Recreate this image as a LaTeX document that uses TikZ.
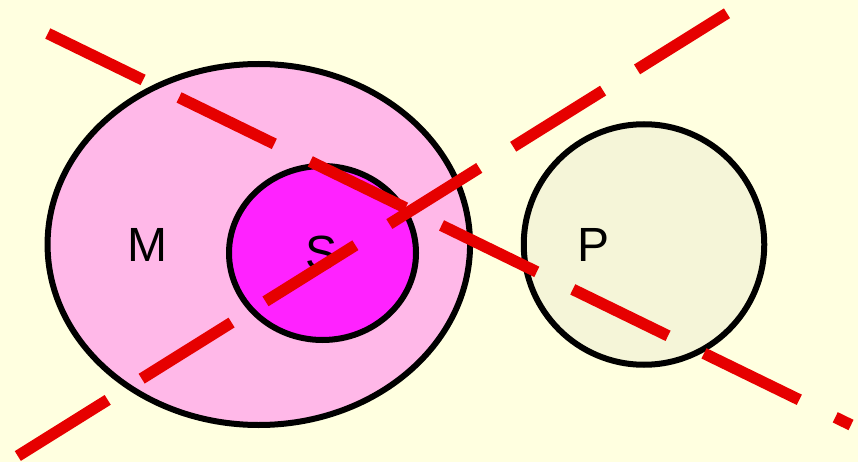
\documentclass[tikz,border=0pt]{standalone}
\usepackage{fontspec}
\setmainfont{Liberation Sans}
\usetikzlibrary{shapes.geometric}
\definecolor{bgyellow}{RGB}{255,255,224}
\definecolor{setpink}{RGB}{255,184,232}
\definecolor{setmagenta}{RGB}{255,34,255}
\definecolor{setbeige}{RGB}{245,245,216}
\definecolor{cutred}{RGB}{230,0,0}

\begin{document}
\begin{tikzpicture}[x=1pt, y=-1pt,
    setshape/.style={ellipse, draw, line width=6pt, inner sep=0pt},
    setlabel/.style={inner sep=0pt, font=\fontsize{48}{52}\selectfont},
    cutline/.style={cutred, line width=11.5pt, dash pattern=on 106pt off 40pt}]
    \fill[bgyellow] (0,0) rectangle (858,462);
    \node[setshape, fill=setpink, minimum width=422.5pt, minimum height=361pt] (M) at (258.8,244.5) {};
    \node[setshape, fill=setmagenta, minimum width=187pt, minimum height=174pt] (S) at (322.5,253) {};
    \node[setshape, fill=setbeige, minimum width=240.5pt, minimum height=240.5pt] (P) at (644,244.5) {};
    \node[setlabel] (mname) at (147.5,244.5) {M};
    \node[setlabel] (sname) at (322,253) {S};
    \node[setlabel] (pname) at (593,244.5) {P};
    \coordinate (a1) at (47.8,33.5);
    \coordinate (a2) at (851,425);
    \coordinate (b1) at (17.8,456);
    \coordinate (b2) at (729,12);
    \draw[cutline] (a1) -- (a2);
    \draw[cutline] (b1) -- (b2);
\end{tikzpicture}
\end{document}
